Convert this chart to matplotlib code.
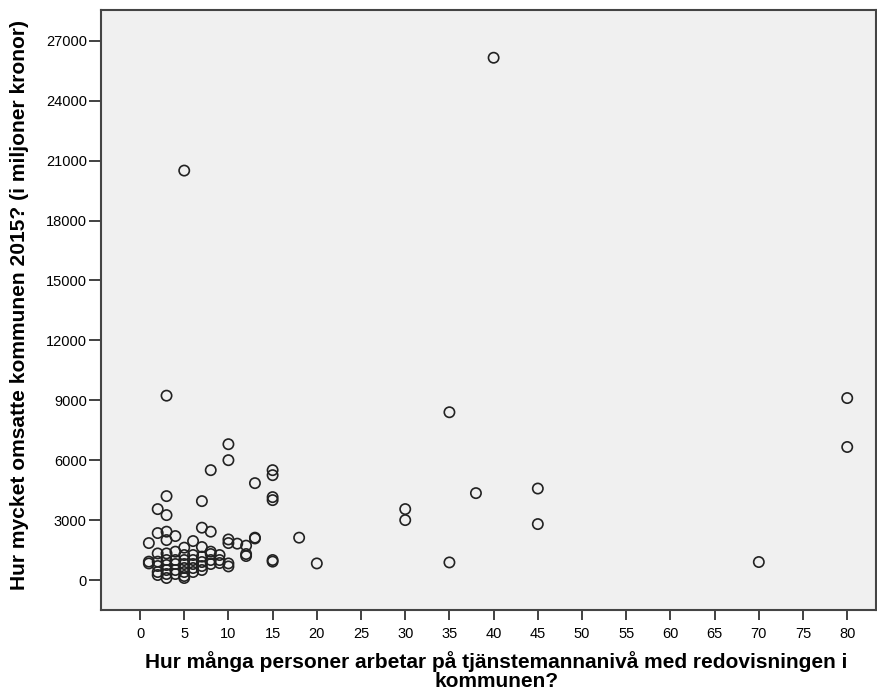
import matplotlib
matplotlib.use("Agg")
import matplotlib.pyplot as plt
import numpy as np

plt.rcParams['font.family'] = ['Liberation Sans', 'DejaVu Sans']

# antal personer -> omsättning (miljoner kronor), grupperat per x-värde
groups = {
    1: [1850, 920, 830],
    2: [3550, 2350, 1330, 920, 700, 400, 250],
    3: [9230, 4200, 3250, 2420, 2000, 1330, 1000, 750, 500, 300, 100],
    4: [2200, 1420, 1000, 800, 500, 300],
    5: [20500, 1620, 1250, 1000, 800, 600, 400, 200, 100],
    6: [1950, 1250, 1000, 800, 600, 400],
    7: [3950, 2620, 1650, 1170, 900, 700, 500],
    8: [5500, 2420, 1420, 1300, 1000, 800],
    9: [1250, 1000, 850],
    10: [6800, 6000, 2030, 1850, 830, 680],
    11: [1820],
    12: [1720, 1300, 1200],
    13: [4850, 2120, 2080],
    15: [5500, 5250, 4150, 4000, 1000, 920],
    18: [2120],
    20: [830],
    30: [3550, 3000],
    35: [8400, 880],
    38: [4350],
    40: [26150],
    45: [4580, 2800],
    70: [900],
    80: [9110, 6660],
}
x = np.array([k for k, v in groups.items() for _ in v])
y = np.array([val for v in groups.values() for val in v])

xticks = list(range(0, 81, 5))
yticks = list(range(0, 27001, 3000))

fig = plt.figure(figsize=(8.77, 6.95), dpi=100)
ax = fig.add_axes([0.1148, 0.1223, 0.8835, 0.8633])
ax.set_facecolor('#f0f0f0')

ax.scatter(x, y, s=55, facecolors='none', edgecolors='#222222', linewidths=1.2, zorder=3)

ax.set_xlim(-4.45, 83.2)
ax.set_ylim(-1502, 28540)
ax.set_xticks(xticks)
ax.set_yticks(yticks)
ax.tick_params(axis='x', length=7, width=1.3, color='#333333', labelsize=10.5, pad=5)
ax.tick_params(axis='y', length=9, width=1.3, color='#333333', labelsize=10.5, pad=1)
for s in ax.spines.values():
    s.set_color('#444444')
    s.set_linewidth(1.5)

ax.set_xlabel('Hur många personer arbetar på tjänstemannanivå med redovisningen i\nkommunen?',
              fontsize=15, fontweight='bold', linespacing=1.0)
ax.xaxis.set_label_coords(0.511, -0.068)
ax.set_ylabel('Hur mycket omsatte kommunen 2015? (i miljoner kronor)',
              fontsize=15.1, fontweight='bold')
ax.yaxis.set_label_coords(-0.092, 0.508)

fig.savefig('out.png', dpi=100)
